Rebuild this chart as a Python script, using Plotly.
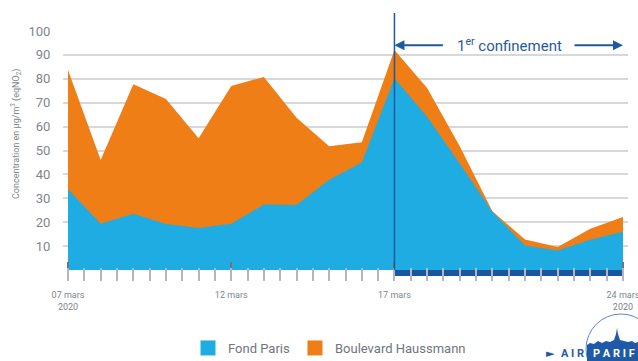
import plotly.graph_objects as go
import pandas as pd

dates = pd.date_range("2020-03-07", "2020-03-24", freq="D")
boulevard_haussmann = [83.7, 46, 77.7, 71.6, 55.1, 77, 80.8, 63.7, 51.8, 53.4, 92, 76.2, 51.8, 24.6, 12.8, 9.6, 17.3, 22.2]
fond_paris = [33.8, 19.4, 23.5, 19.2, 17.6, 19.3, 27.4, 27.2, 37.8, 45.0, 80.2, 64.1, 44.6, 24.4, 10.2, 8.2, 12.7, 16.0]

major_ticks = ["2020-03-07", "2020-03-12", "2020-03-17", "2020-03-24"]
major_labels = ["07 mars<br>2020", "12 mars", "17 mars", "24 mars<br>2020"]
y_ticks = [0, 10, 20, 30, 40, 50, 60, 70, 80, 90, 100]
y_labels = ["", "10", "20", "30", "40", "50", "60", "70", "80", "90", "100"]
confinement = ["2020-03-17", "2020-03-24"]

ORANGE = "#EE7E15"
BLUE = "#1EACE2"
DARK = "#1F5A9F"
GREY = "#858a92"

W, H = 638, 361
L, R, T, B = 63, 10, 31, 91
PW, PH = W - L - R, H - T - B


def px(xpix):
    return (xpix - L) / PW


def py(ypix):
    return (H - B - ypix) / PH


x_range = [pd.Timestamp("2020-03-07") - pd.Timedelta(hours=3.7),
           pd.Timestamp("2020-03-24") + pd.Timedelta(hours=3.7)]

fig = go.Figure()
fig.add_trace(go.Scatter(x=dates, y=boulevard_haussmann, mode="lines", fill="tozeroy",
                         line=dict(width=0, color=ORANGE), fillcolor=ORANGE,
                         showlegend=False, hoverinfo="skip"))
fig.add_trace(go.Scatter(x=dates, y=fond_paris, mode="lines", fill="tozeroy",
                         line=dict(width=0, color=BLUE), fillcolor=BLUE,
                         showlegend=False, hoverinfo="skip"))
# legend entries (squares)
fig.add_trace(go.Scatter(x=[None], y=[None], mode="markers", name="Fond Paris",
                         marker=dict(symbol="square", size=15, color=BLUE), xaxis="x2"))
fig.add_trace(go.Scatter(x=[None], y=[None], mode="markers", name="Boulevard Haussmann",
                         marker=dict(symbol="square", size=15, color=ORANGE), xaxis="x3"))

fig.update_layout(
    width=W, height=H,
    margin=dict(l=L, r=R, t=T, b=B, autoexpand=False),
    paper_bgcolor="white", plot_bgcolor="white",
    font=dict(family="Roboto", color=GREY),
    xaxis=dict(type="date", range=x_range, tickvals=major_ticks, ticktext=major_labels,
               ticks="outside", ticklen=16, tickcolor="rgba(0,0,0,0)",
               ticklabeloverflow="allow",
               tickfont=dict(size=9, color="#80858c"), showgrid=False, zeroline=False,
               showline=False),
    xaxis2=dict(type="date", range=x_range, overlaying="x", anchor="free", position=9 / PH,
                tickvals=major_ticks, ticks="outside", ticklen=19, tickwidth=2,
                tickcolor="#6f747c", showticklabels=False, showgrid=False,
                zeroline=False, showline=False),
    xaxis3=dict(type="date", range=x_range, overlaying="x", anchor="free", position=3 / PH,
                tick0="2020-03-07", dtick=43200000, ticks="outside", ticklen=13, tickwidth=1.5,
                tickcolor="#b3b7bd", showticklabels=False, showgrid=False,
                zeroline=False, showline=False),
    yaxis=dict(range=[0, 100], tickvals=y_ticks, ticktext=y_labels,
               ticks="outside", ticklen=9, tickcolor="rgba(0,0,0,0)",
               tickfont=dict(size=13, color="#80858f"),
               showgrid=True, gridcolor="#d6d8dc", gridwidth=1.5, zeroline=False,
               showline=False),
    legend=dict(orientation="h", x=px(188), y=py(348), xanchor="left", yanchor="middle",
                font=dict(size=13, color="#70757e"), itemwidth=30, bgcolor="rgba(0,0,0,0)"),
    showlegend=True,
)

# confinement band on axis
fig.add_shape(type="rect", xref="x", yref="paper", x0=confinement[0], x1=confinement[1],
              y0=-6 / PH, y1=0, fillcolor="#1A56A0", line=dict(width=0), layer="below")
# vertical line at start of confinement
fig.add_shape(type="line", xref="x", yref="paper", x0=confinement[0], x1=confinement[0],
              y0=0, y1=py(13), line=dict(color=DARK, width=1.5), layer="above")

# arrows
arrow_len = pd.Timedelta(days=1.53)
c0 = pd.Timestamp(confinement[0])
c1 = pd.Timestamp(confinement[1])
fig.add_annotation(x=c0, y=94, ax=c0 + arrow_len, ay=94, xref="x", yref="y", axref="x", ayref="y",
                   text="", showarrow=True, arrowhead=2, arrowsize=1, arrowwidth=2, arrowcolor=DARK)
fig.add_annotation(x=c1, y=94, ax=c1 - arrow_len, ay=94, xref="x", yref="y", axref="x", ayref="y",
                   text="", showarrow=True, arrowhead=2, arrowsize=1, arrowwidth=2, arrowcolor=DARK)
fig.add_annotation(x=c0 + pd.Timedelta(days=3.53), y=94, xref="x", yref="y",
                   xanchor="center", yanchor="middle",
                   text="1<sup>er</sup> confinement", showarrow=False,
                   font=dict(size=15, color=DARK, family="Roboto"))

# y-axis title
fig.add_annotation(x=px(16), y=py(134), xref="paper", yref="paper", textangle=-90,
                   xanchor="center", yanchor="middle",
                   text="Concentration en µg/m<sup>3</sup> (eqNO<sub>2</sub>)", showarrow=False,
                   font=dict(size=9, color="#80858c"))

# AIRPARIF logo
fig.add_shape(type="circle", xref="paper", yref="paper", x0=px(586), x1=px(656), y0=py(384),
              y1=py(314), line=dict(color="#5b86c9", width=1), layer="above")
sky = [(587, 361), (587, 345), (590, 343), (594, 344), (598, 341), (602, 343), (606, 341),
       (610, 342), (614, 340), (616, 334), (617, 328), (618, 334), (620, 340), (624, 341),
       (628, 342), (632, 341), (635, 343), (638, 342), (638, 361)]
path = "M " + " L ".join(f"{px(a)},{py(b)}" for a, b in sky) + " Z"
fig.add_shape(type="path", xref="paper", yref="paper", path=path, fillcolor="#1F5AA8",
              line=dict(width=0), layer="above")
fig.add_annotation(x=px(550), y=py(353), xref="paper", yref="paper", showarrow=False,
                   xanchor="center", yanchor="middle",
                   text="►", font=dict(size=11, color="#1F5AA8", family="DejaVu Sans"))
fig.add_annotation(x=px(572), y=py(353), xref="paper", yref="paper", showarrow=False,
                   xanchor="center", yanchor="middle",
                   text="<b>A I R</b>", font=dict(size=11, color="#1F5AA8", family="Roboto"))
fig.add_annotation(x=px(614), y=py(353), xref="paper", yref="paper", showarrow=False,
                   xanchor="center", yanchor="middle",
                   text="<b>P A R I F</b>", font=dict(size=11, color="white", family="Roboto"))

fig.write_html("out.html")
